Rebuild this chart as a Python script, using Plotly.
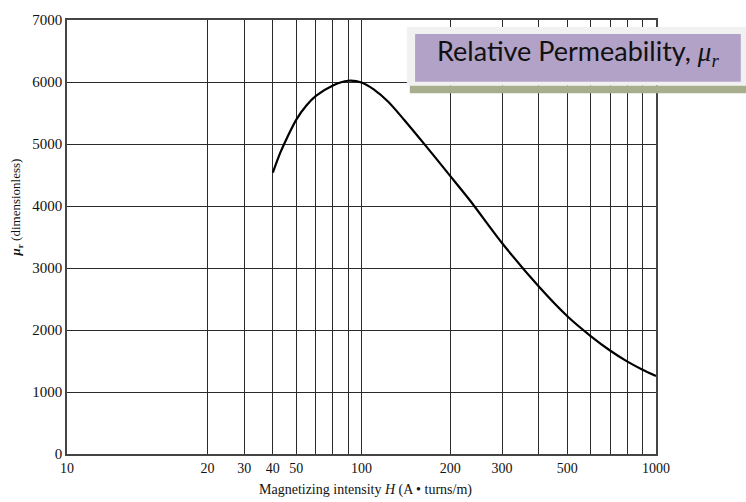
import plotly.graph_objects as go

# Data (H in A·turns/m, relative permeability)
H_values = [50, 53, 56, 60, 65, 70, 80, 90, 100, 110, 123, 139, 164, 200, 234, 300, 400, 500, 600, 700, 800, 900, 1000]
mu_r_values = [4540, 4860, 5110, 5390, 5620, 5775, 5945, 6020, 5993, 5881, 5685, 5400, 4990, 4486, 4085, 3404, 2700, 2221, 1902, 1665, 1490, 1360, 1258]

# Grid / tick positions on the log axis and the labels printed at them
x_tick_vals = [10, 30, 40, 50, 60, 70, 80, 90, 100, 200, 300, 400, 500, 600, 700, 800, 900, 1000]
x_tick_text = ["10", "20", "30", "40", "50", "", "", "", "100", "200", "300", "", "500", "", "", "", "", "1000"]
y_tick_vals = [0, 1000, 2000, 3000, 4000, 5000, 6000, 7000]

fig = go.Figure()
fig.add_trace(go.Scatter(
    x=H_values, y=mu_r_values, mode="lines",
    line=dict(color="black", width=2.2, shape="spline", smoothing=0.8),
    showlegend=False, hoverinfo="skip",
))

grid_col = "#2a2a2a"
fig.update_xaxes(
    type="log", range=[1, 3],
    tickmode="array", tickvals=x_tick_vals, ticktext=x_tick_text,
    showgrid=True, gridcolor=grid_col, gridwidth=1.2,
    showline=True, linecolor="#444", linewidth=1.5, mirror=True,
    ticks="", zeroline=False,
    tickfont=dict(family="Liberation Serif", size=14, color="#111"),
)
fig.update_yaxes(
    range=[0, 7000],
    tickmode="array", tickvals=y_tick_vals,
    showgrid=True, gridcolor=grid_col, gridwidth=1.2,
    showline=True, linecolor="#444", linewidth=1.5, mirror=True,
    ticks="", zeroline=False,
    tickfont=dict(family="Liberation Serif", size=15, color="#111"),
)

# Axis titles as annotations
fig.add_annotation(
    text="Magnetizing intensity <i>H</i> (A • turns/m)",
    xref="paper", yref="paper", x=0.506, y=-0.082,
    xanchor="center", yanchor="middle", showarrow=False,
    font=dict(family="Liberation Serif", size=14, color="#111"),
)
fig.add_annotation(
    text="<b><i>μ</i><sub>r</sub></b> (dimensionless)",
    xref="paper", yref="paper", x=-0.085, y=0.568,
    xanchor="center", yanchor="middle", showarrow=False, textangle=-90,
    font=dict(family="Liberation Serif", size=13, color="#111"),
)

# Title callout box
fig.add_shape(type="rect", xref="paper", yref="paper",
              x0=0.582, x1=1.16, y0=0.831, y1=0.849,
              fillcolor="#a6ae8e", line=dict(width=0), layer="above")
fig.add_shape(type="rect", xref="paper", yref="paper",
              x0=0.577, x1=1.16, y0=0.849, y1=0.984,
              fillcolor="#f1f1f1", line=dict(width=0), layer="above")
fig.add_shape(type="rect", xref="paper", yref="paper",
              x0=0.591, x1=1.144, y0=0.858, y1=0.968,
              fillcolor="#b3a2c7", line=dict(width=0), layer="above")
fig.add_annotation(
    text="Relative Permeability, <i><span style='font-family:Liberation Serif'>μ<sub>r</sub></span></i>",
    xref="paper", yref="paper", x=0.867, y=0.925,
    xanchor="center", yanchor="middle", showarrow=False,
    font=dict(family="Lato", size=27, color="#111"),
)

fig.update_layout(
    width=746, height=502,
    margin=dict(l=67, r=90, t=16, b=48),
    paper_bgcolor="white", plot_bgcolor="white",
)

# Remove the browser's default 8px body margin so the figure fills the window
fig.write_html("out.html", config={"displayModeBar": False},
               post_script="document.body.style.margin='0';")
